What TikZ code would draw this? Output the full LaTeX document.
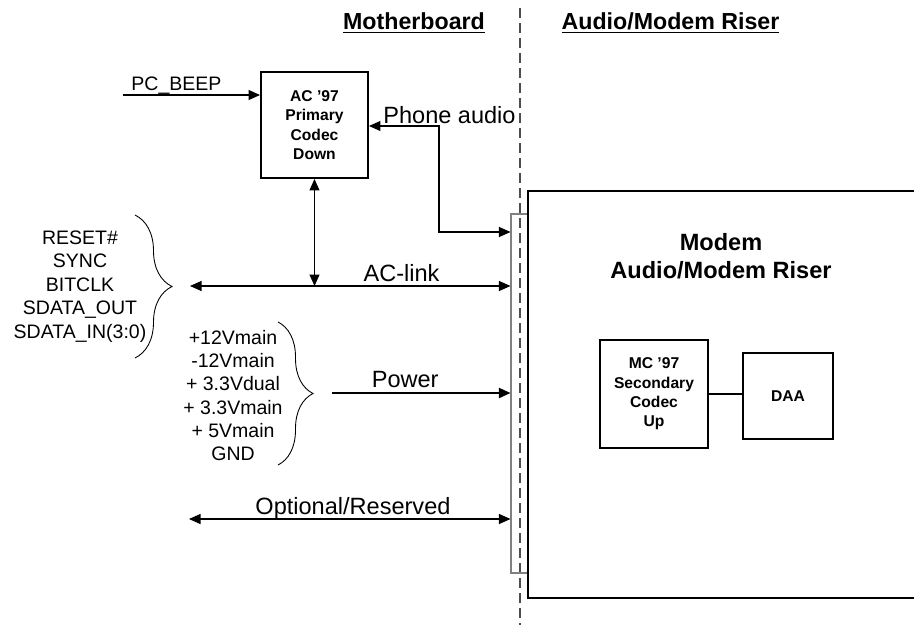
\documentclass[tikz,border=0pt]{standalone}
\usepackage{fontspec}
\setmainfont{Liberation Sans}
\usetikzlibrary{arrows.meta,positioning,calc,decorations.pathreplacing}

\begin{document}
\begin{tikzpicture}[
font=\fontsize{13.4}{13.3}\selectfont,
box/.style={draw, line width=1.1pt, align=center, inner sep=0pt, font=\fontsize{8.9}{11}\selectfont\bfseries},
head/.style={font=\fontsize{13.2}{16}\selectfont\bfseries, align=center},
sig/.style={align=center, inner sep=0pt, font=\fontsize{11.1}{13.3}\selectfont},
lbl/.style={above, inner sep=2.5pt, text depth=0pt},
arr/.style={-{Triangle[length=2.3mm,width=2mm]}, line width=0.6pt},
dbl/.style={{Triangle[length=2.3mm,width=2mm]}-{Triangle[length=2.3mm,width=2mm]}, line width=0.6pt},
brc/.style={decorate, decoration={brace, amplitude=#1}, line width=0.5pt}
]
\useasboundingbox (0,0) rectangle (18.28,-12.5);

% Board split
\draw[gray!60!black, line width=0.6pt, dash pattern=on 0.2cm off 0.1cm]
(10.4,-0.16) -- (10.4,-12.5);
\node[head] (mb) at (8.28,-0.46) {\underline{Motherboard}};
\node[head] (amr) at (13.41,-0.46) {\underline{Audio/Modem Riser}};

% Motherboard side
\node[box, minimum width=2.14cm, minimum height=2.12cm] (codec) at (6.29,-2.5)
{AC '97\\Primary\\Codec\\Down};

\node[sig] (acsig) at (1.6,-5.73)
{RESET\#\\SYNC\\BITCLK\\SDATA\_OUT\\SDATA\_IN(3:0)};
\draw[brc=0.74cm] (2.7,-4.3) -- (2.7,-7.16);

\node[sig] (pwsig) at (4.66,-7.91)
{+12Vmain\\-12Vmain\\+ 3.3Vdual\\+ 3.3Vmain\\+ 5Vmain\\GND};
\draw[brc=0.7cm] (5.56,-6.44) -- (5.56,-9.3);

% Riser connector and card
\node[draw=gray, line width=0.6pt, minimum width=0.34cm, minimum height=7.18cm,
inner sep=0pt] (conn) at (10.39,-7.87) {};
\draw[line width=1.1pt] (18.3,-3.82) -- (10.56,-3.82) -- (10.56,-11.96) -- (18.3,-11.96);

\node[head, font=\fontsize{13.4}{16}\selectfont\bfseries] (riser) at (14.42,-5.12)
{Modem\\Audio/Modem Riser};
\node[box, minimum width=2.16cm, minimum height=2.16cm] (mc) at (13.08,-7.88)
{MC '97\\Secondary\\Codec\\Up};
\node[box, minimum width=1.8cm, minimum height=1.72cm] (daa) at (15.76,-7.92) {DAA};
\draw[line width=0.6pt] (mc.east) -- (mc.east -| daa.west);

% Signal ends
\coordinate (pcbeep) at (2.46,-1.9);
\coordinate (phone) at (8.78,-2.52);
\coordinate (phbend) at (8.78,-4.64);
\coordinate (aclink) at (3.8,-5.72);
\coordinate (pwr) at (6.64,-7.86);
\coordinate (opt) at (3.78,-10.38);

\draw[arr] (pcbeep) -- node[lbl, pos=0.39, font=\fontsize{11.1}{13}\selectfont] (pclbl) {PC\_BEEP}
(codec.west |- pcbeep);

\draw[dbl] (codec.east |- phone) -| (phbend) -- (conn.west |- phbend);
\node[inner sep=0pt, anchor=base west] (phlbl) at (7.66,-2.46) {Phone audio};

\draw[dbl] (aclink) -- node[lbl, pos=0.66] (aclbl) {AC-link} (conn.west |- aclink);
\draw[dbl] (codec.south) -- (codec.south |- aclink);

\draw[arr, line width=1.1pt] (pwr) -- node[lbl, pos=0.41] (pwlbl) {Power} (conn.west |- pwr);

\draw[dbl] (opt) -- node[lbl, pos=0.51] (oplbl) {Optional/Reserved} (conn.west |- opt);

\end{tikzpicture}
\end{document}
